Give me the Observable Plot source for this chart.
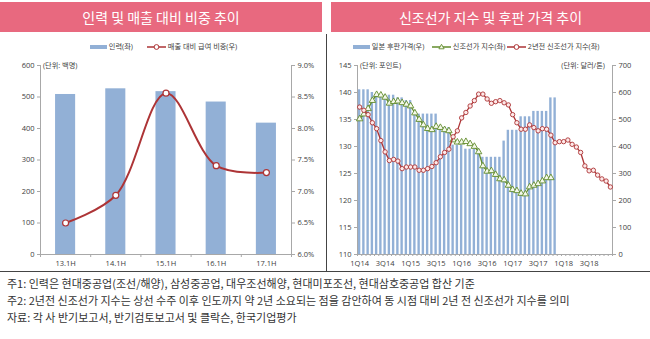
<!DOCTYPE html>
<html><head><meta charset="utf-8">
<script src="https://cdn.jsdelivr.net/npm/d3@7"></script>
<script src="https://cdn.jsdelivr.net/npm/@observablehq/plot@0.6"></script>
<style>
html,body{margin:0;padding:0;background:#fff;overflow:hidden;}
#page{position:relative;width:650px;height:339px;font-family:"Open Sans","Noto Sans CJK KR",sans-serif;color:#404040;}
.banner{position:absolute;top:2px;height:30px;background:#e8697f;color:#fff;font-family:"Noto Sans CJK KR",sans-serif;font-size:14px;line-height:30px;text-align:center;}
.lg{position:absolute;font-size:7.2px;line-height:10px;white-space:nowrap;font-family:"Open Sans","Noto Sans CJK KR",sans-serif;color:#404040;}
.unit{position:absolute;font-size:7.2px;line-height:10px;white-space:nowrap;color:#404040;}
.note{position:absolute;left:7px;font-family:"Noto Sans CJK KR",sans-serif;font-size:11px;line-height:14px;color:#333;white-space:nowrap;}
.rule{position:absolute;background:#444;}
</style>
</head><body><div id="page"></div>
<script>
// ---------- data: left chart ----------
const halfYears = ["13.1H","14.1H","15.1H","16.1H","17.1H"];
const staff = [508, 526, 517, 484, 417];            // 인력(좌), 백명
const wageRatio = [6.50, 6.94, 8.56, 7.41, 7.30];   // 매출 대비 급여 비중(우), %
const staffTicks = [0,100,200,300,400,500,600];
const pctTicks = [6.0,6.5,7.0,7.5,8.0,8.5,9.0];

// ---------- data: right chart (monthly, Jan 2014 ~) ----------
const quarterLabels = ["1Q14","3Q14","1Q15","3Q15","1Q16","3Q16","1Q17","3Q17","1Q18","3Q18"];
const plate = [610,610,610,600,590,590,590,590,590,580,580,570,570,
  520,520,520,520,520,520,470,470,470,405,405,405,390,390,390,390,
  360,360,360,360,360,420,460,460,460,510,510,510,530,530,530,530,580,580]; // 일본 후판가격(우)
const newbuild = [135.1,136.0,137.0,138.5,139.6,139.5,139.1,138.0,138.3,138.4,138.1,137.8,
  137.5,136.2,135.0,134.0,133.3,133.1,133.7,133.5,133.1,132.9,131.2,130.8,
  130.8,130.9,130.5,130.0,129.0,126.4,125.4,125.5,124.8,124.0,123.8,122.8,
  122.0,121.8,121.3,121.2,122.5,122.8,123.1,123.6,124.2,124.2]; // 신조선가 지수(좌)
const newbuild2y = [137.3,136.7,135.9,134.4,133.3,131.1,129.0,127.4,127.6,127.3,125.9,126.2,
  126.2,126.2,125.6,125.6,125.9,126.3,127.0,128.1,128.9,129.5,131.8,132.9,
  135.3,136.3,137.5,138.5,139.7,139.7,138.8,138.0,138.3,138.5,138.1,137.7,
  135.9,134.4,133.2,133.2,134.0,133.5,132.9,133.3,133.2,132.1,130.7,130.9,
  130.9,131.2,130.4,129.9,128.9,126.4,125.5,125.6,124.7,124.0,123.6,122.5]; // 2년전 신조선가 지수(좌)
const indexTicks = [110,115,120,125,130,135,140,145];
const plateTicks = [0,100,200,300,400,500,600,700];
const monthCount = 60;

// ---------- styles ----------
const BAR = "#92b0d6", RED = "#ad3436", GREEN = "#628c2c", AX = "#a8a8a8", TXT = "#404040";
const W = 650, H = 339;
const common = {width: W, height: H, marginTop: 65, marginBottom: H - 254};
const LM = {marginLeft: 40, marginRight: W - 291};
const RM = {marginLeft: 357, marginRight: W - 612};

const page = document.getElementById("page");
function addPlot(svg) {
  svg.style.position = "absolute"; svg.style.left = "0"; svg.style.top = "0";
  svg.style.background = "none"; svg.style.overflow = "visible";
  svg.style.fontSize = "7.5px"; svg.style.fontFamily = "'Open Sans','Noto Sans CJK KR',sans-serif";
  svg.style.maxWidth = "none";
  page.appendChild(svg);
}
function el(cls, css, html) {
  const d = document.createElement("div"); d.className = cls; Object.assign(d.style, css);
  if (html != null) d.innerHTML = html; page.appendChild(d); return d;
}

const i5 = halfYears.map((d, i) => i);
// Left: bars + left axis
addPlot(Plot.plot({...common, ...LM,
  x: {domain: [-0.5, 4.5]}, y: {domain: [0, 600]},
  marks: [
    Plot.rectY(i5, {x1: i => i - 0.2, x2: i => i + 0.2, y1: 0, y2: i => staff[i], fill: BAR}),
    Plot.ruleX([-0.5], {stroke: AX}),
    Plot.ruleY([0], {stroke: AX}),
    Plot.axisY({ticks: staffTicks, tickSize: 3, tickPadding: 3, stroke: AX, color: TXT, label: null}),
    Plot.axisX({ticks: i5, tickFormat: i => halfYears[i], tickSize: 0, tickPadding: 6, color: TXT, label: null}),
    Plot.axisX({ticks: d3.range(-0.5, 5, 1), tickFormat: () => "", tickSize: 3, stroke: AX, label: null})
  ]}));
// Left: line + right axis
addPlot(Plot.plot({...common, ...LM,
  x: {domain: [-0.5, 4.5], axis: null}, y: {domain: [6, 9]},
  marks: [
    Plot.ruleX([4.5], {stroke: AX}),
    Plot.axisY({anchor: "right", ticks: pctTicks, tickFormat: d => d.toFixed(1) + "%", tickSize: 3, tickPadding: 3, stroke: AX, color: TXT, label: null}),
    Plot.line(i5, {x: i => i, y: i => wageRatio[i], curve: "catmull-rom", stroke: RED, strokeWidth: 2}),
    Plot.dot(i5, {x: i => i, y: i => wageRatio[i], r: 3, fill: "white", stroke: RED, strokeWidth: 1.2})
  ]}));

// Right: bars + right axis
const iPlate = plate.map((d, i) => i);
addPlot(Plot.plot({...common, ...RM,
  x: {domain: [-0.5, monthCount - 0.5]}, y: {domain: [0, 700]},
  marks: [
    Plot.rectY(iPlate, {x1: i => i - 0.28, x2: i => i + 0.28, y1: 0, y2: i => plate[i], fill: BAR}),
    Plot.ruleX([monthCount - 0.5], {stroke: AX}),
    Plot.ruleY([0], {stroke: AX}),
    Plot.axisY({anchor: "right", ticks: plateTicks, tickSize: 3, tickPadding: 3, stroke: AX, color: TXT, label: null}),
    Plot.axisX({ticks: quarterLabels.map((d, k) => k * 6), tickFormat: d => quarterLabels[d / 6], tickSize: 0, tickPadding: 6, color: TXT, label: null}),
    Plot.axisX({ticks: d3.range(-0.5, monthCount, 1), tickFormat: () => "", tickSize: 2, stroke: AX, label: null})
  ]}));
// Right: lines + left axis
const iNb = newbuild.map((d, i) => i), iNb2 = newbuild2y.map((d, i) => i);
addPlot(Plot.plot({...common, ...RM,
  x: {domain: [-0.5, monthCount - 0.5], axis: null}, y: {domain: [110, 145]},
  marks: [
    Plot.ruleX([-0.5], {stroke: AX}),
    Plot.axisY({ticks: indexTicks, tickSize: 3, tickPadding: 3, stroke: AX, color: TXT, label: null}),
    Plot.line(iNb, {x: i => i, y: i => newbuild[i], stroke: GREEN, strokeWidth: 1.3}),
    Plot.dot(iNb, {x: i => i, y: i => newbuild[i], symbol: "triangle", r: 2.4, fill: "#f4f8ea", stroke: GREEN, strokeWidth: 0.9}),
    Plot.line(iNb2, {x: i => i, y: i => newbuild2y[i], stroke: RED, strokeWidth: 1.3}),
    Plot.dot(iNb2, {x: i => i, y: i => newbuild2y[i], r: 2.2, fill: "#fde9e9", stroke: RED, strokeWidth: 0.9})
  ]}));

// ---------- titles, legends, units, notes ----------
el("banner", {left: "0px", width: "322px"}, "인력 및 매출 대비 비중 추이");
el("banner", {left: "331px", width: "319px"}, "신조선가 지수 및 후판 가격 추이");
el("rule", {left: "326px", top: "34px", width: "1px", height: "237px"});
el("rule", {left: "0px", top: "271px", width: "650px", height: "1px"});

const sw = `<svg width="17" height="6" style="vertical-align:middle"><rect x="0" y="1" width="17" height="4" fill="${BAR}"/></svg>`;
const lnCircle = c => `<svg width="19" height="8" style="vertical-align:middle"><line x1="0" y1="4" x2="19" y2="4" stroke="${c}" stroke-width="1.5"/><circle cx="9.5" cy="4" r="2.4" fill="white" stroke="${c}" stroke-width="1"/></svg>`;
const lnTri = c => `<svg width="19" height="8" style="vertical-align:middle"><line x1="0" y1="4" x2="19" y2="4" stroke="${c}" stroke-width="1.5"/><path d="M9.5,1.3 L12.1,5.8 L6.9,5.8 Z" fill="#f4f8ea" stroke="${c}" stroke-width="0.9"/></svg>`;
el("lg", {left: "90px", top: "41px"}, sw + " 인력(좌)");
el("lg", {left: "147px", top: "41px"}, lnCircle(RED) + " 매출 대비 급여 비중(우)");
el("lg", {left: "353px", top: "41px"}, sw + " 일본 후판가격(우)");
el("lg", {left: "432px", top: "41px"}, lnTri(GREEN) + " 신조선가 지수(좌)");
el("lg", {left: "507px", top: "41px"}, lnCircle(RED) + " 2년전 신조선가 지수(좌)");

el("unit", {left: "43px", top: "60px"}, "(단위: 백명)");
el("unit", {left: "360px", top: "60px"}, "(단위: 포인트)");
el("unit", {right: "45px", top: "60px"}, "(단위: 달러/톤)");

el("note", {top: "276px"}, "주1: 인력은 현대중공업(조선/해양), 삼성중공업, 대우조선해양, 현대미포조선, 현대삼호중공업 합산 기준");
el("note", {top: "293px"}, "주2: 2년전 신조선가 지수는 상선 수주 이후 인도까지 약 2년 소요되는 점을 감안하여 동 시점 대비 2년 전 신조선가 지수를 의미");
el("note", {top: "310px"}, "자료: 각 사 반기보고서, 반기검토보고서 및 클락슨, 한국기업평가");
</script>
</body></html>
